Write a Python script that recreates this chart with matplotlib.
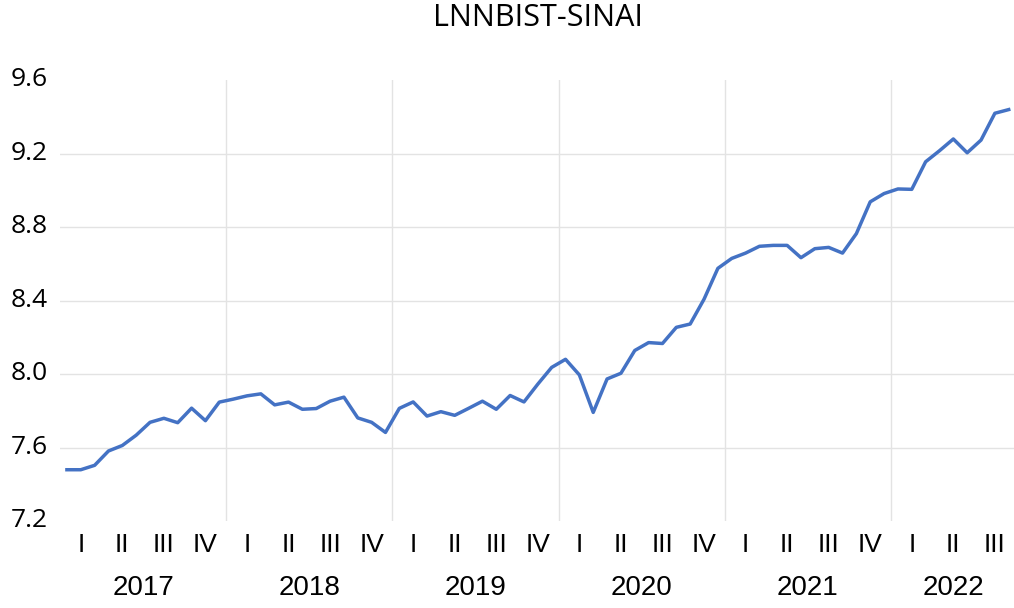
import matplotlib
matplotlib.use("Agg")
import matplotlib.pyplot as plt
import matplotlib.transforms as mtransforms
import numpy as np

title = "LNNBIST-SINAI"
years = ["2017", "2018", "2019", "2020", "2021", "2022"]
quarters = ["I", "II", "III", "IV"]
# monthly values, Jan 2017 .. Sep 2022
values = [7.479, 7.479, 7.503, 7.581, 7.611, 7.667, 7.737, 7.759, 7.735, 7.814, 7.746, 7.847,
          7.863, 7.881, 7.892, 7.832, 7.847, 7.808, 7.812, 7.852, 7.874, 7.761, 7.737, 7.682,
          7.813, 7.848, 7.771, 7.795, 7.775, 7.813, 7.852, 7.808, 7.883, 7.848, 7.945, 8.036,
          8.080, 7.995, 7.791, 7.973, 8.004, 8.128, 8.171, 8.166, 8.254, 8.272, 8.407, 8.575,
          8.629, 8.658, 8.695, 8.700, 8.700, 8.633, 8.682, 8.689, 8.658, 8.764, 8.937, 8.982,
          9.007, 9.005, 9.155, 9.215, 9.279, 9.204, 9.273, 9.419, 9.439]
yticks = [7.2, 7.6, 8.0, 8.4, 8.8, 9.2, 9.6]

n = len(values)
x = np.arange(n) + 0.5

fig = plt.figure(figsize=(10.14, 6.08), dpi=100)
ax = fig.add_axes([60 / 1014, 1 - 521 / 608, 1 - 60 / 1014, (521 - 80) / 608])

ax.plot(x, values, color="#4472C4", lw=2.5, solid_joinstyle="round", zorder=3)

ax.set_xlim(0, (1014 - 60) / 13.85)
ax.set_ylim(7.2, 9.6)
ax.set_yticks(yticks)
ax.set_yticklabels([f"{v:.1f}" for v in yticks], fontfamily="Open Sans", fontsize=19)
ax.tick_params(axis="y", length=0, pad=9)
shift = mtransforms.ScaledTranslation(0, 2.5 / 72, fig.dpi_scale_trans)
for lab in ax.get_yticklabels():
    lab.set_transform(lab.get_transform() + shift)

# horizontal gridlines (interior only)
for v in yticks[1:-1]:
    ax.axhline(v, color="#e3e3e3", lw=1.0, zorder=1)
# vertical year separators
for k in range(1, len(years)):
    ax.axvline(12 * k, color="#e3e3e3", lw=1.0, zorder=1)

for s in ax.spines.values():
    s.set_visible(False)
ax.set_xticks([])

xfont = ["Liberation Sans Narrow", "Liberation Sans"]
# quarter labels
for qi in range(int(np.ceil(n / 3))):
    ax.annotate(quarters[qi % 4], xy=(qi * 3 + 1.5, 0), xycoords=("data", "axes fraction"),
                xytext=(0, -17.5), textcoords="offset points", ha="center", va="center",
                fontsize=19, family=xfont, annotation_clip=False)
# year labels
for yi, yr in enumerate(years):
    months_in_year = min(12, n - 12 * yi)
    cx = 12 * yi + months_in_year / 2
    ax.annotate(yr, xy=(cx, 0), xycoords=("data", "axes fraction"),
                xytext=(0, -48.5), textcoords="offset points", ha="center", va="center",
                fontsize=20, family=xfont, annotation_clip=False)

fig.text(538 / 1014, 1 - 18 / 608, title, ha="center", va="center",
         fontsize=22, fontfamily="Open Sans")

fig.savefig("out.png", dpi=100, facecolor="white")
